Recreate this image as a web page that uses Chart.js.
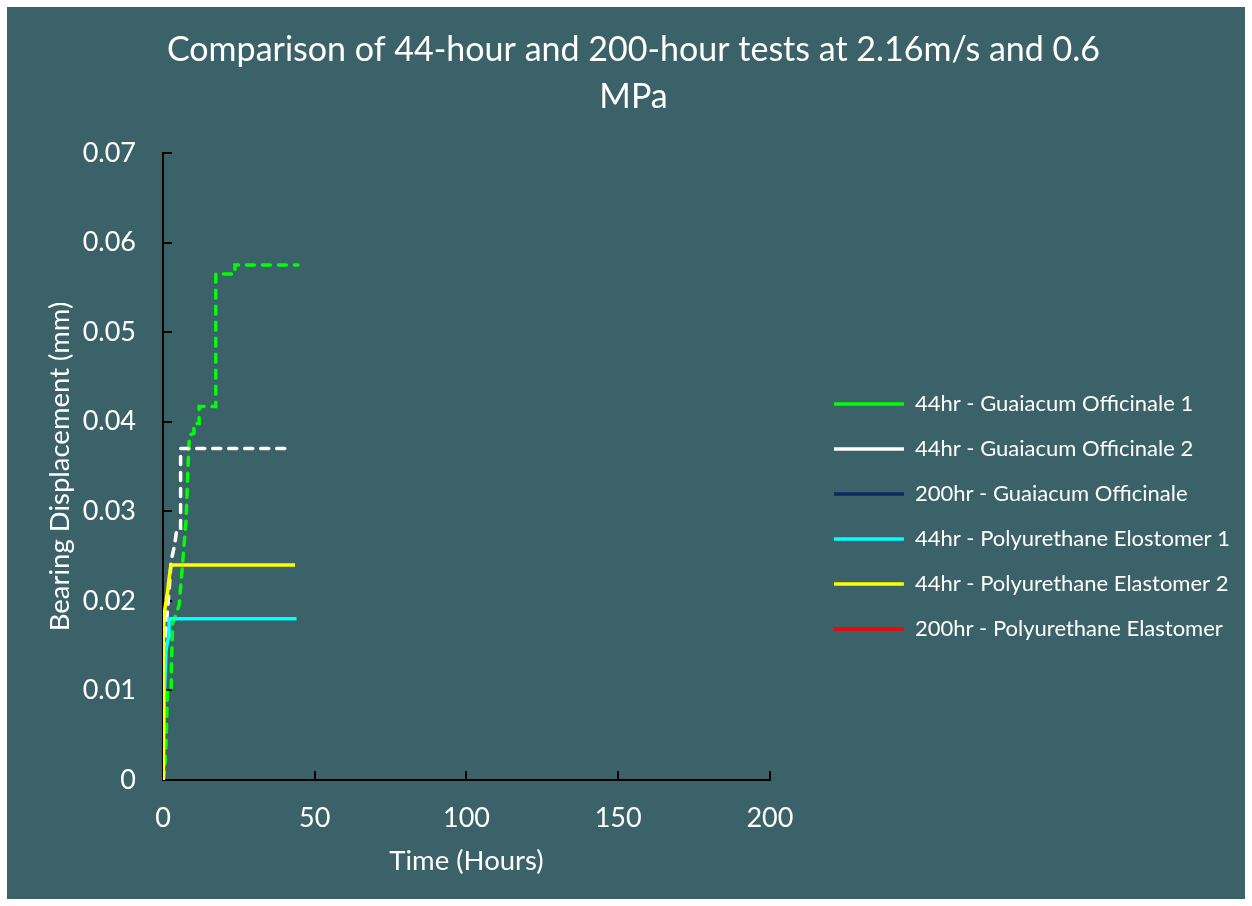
<!DOCTYPE html>
<html>
<head>
<meta charset="utf-8">
<script src="https://cdn.jsdelivr.net/npm/chart.js@4.4.1/dist/chart.umd.min.js"></script>
<style>
  html, body { margin: 0; padding: 0; background: #ffffff; }
  #wrap { position: absolute; left: 7px; top: 7px; width: 1238px; height: 892px; background: #3B6269; }
</style>
</head>
<body>
<div id="wrap"><canvas id="lineChart"></canvas></div>
<script>
// values (hours, mm)
var seriesNames = [
    '44hr - Guaiacum Officinale 1',
    '44hr - Guaiacum Officinale 2',
    '200hr - Guaiacum Officinale',
    '44hr - Polyurethane Elostomer 1',
    '44hr - Polyurethane Elastomer 2',
    '200hr - Polyurethane Elastomer'
];

var go1Hours = [0, 0.5, 1, 1.3, 1.5, 2.7, 2.8, 3.2, 5.3, 6.3, 7.6, 8.3, 8.7, 10.2, 10.2, 11.9, 11.9, 17.4, 17.4, 23.7, 23.7, 44.5];
var go1Disp  = [0, 0.001, 0.004, 0.008, 0.01, 0.01, 0.013, 0.0175, 0.0195, 0.0235, 0.029, 0.0355, 0.0385, 0.0387, 0.0398, 0.0398, 0.0417, 0.0417, 0.0565, 0.0565, 0.0575, 0.0575];

var go2Hours = [0, 0.3, 0.8, 1.5, 2.2, 2.7, 3.8, 4.6, 5.8, 5.8, 42.5];
var go2Disp  = [0, 0.012, 0.016, 0.019, 0.022, 0.0245, 0.0262, 0.0281, 0.0281, 0.037, 0.037];

var go200Hours = [];
var go200Disp  = [];

var pe1Hours = [0, 0.5, 1, 1.5, 2, 2, 44];
var pe1Disp  = [0, 0.01, 0.0145, 0.0155, 0.016, 0.018, 0.018];

var pe2Hours = [0, 0.1, 0.2, 0.4, 0.8, 1.5, 2, 2.6, 43.5];
var pe2Disp  = [0, 0.008, 0.016, 0.0185, 0.0195, 0.021, 0.0225, 0.024, 0.024];

var pe200Hours = [];
var pe200Disp  = [];

var xTickLabels = ['0', '50', '100', '150', '200'];
var yTickLabels = ['0', '0.01', '0.02', '0.03', '0.04', '0.05', '0.06', '0.07'];

function toPoints(xs, ys) {
    return xs.map(function (x, i) { return { x: x, y: ys[i] }; });
}

var colors = ['#00FF00', '#FFFFFF', '#0C2A5B', '#00FFFF', '#FFFF00', '#FF0000'];
var dashed = [true, true, true, false, false, false];
var seriesData = [
    toPoints(go1Hours, go1Disp),
    toPoints(go2Hours, go2Disp),
    toPoints(go200Hours, go200Disp),
    toPoints(pe1Hours, pe1Disp),
    toPoints(pe2Hours, pe2Disp),
    toPoints(pe200Hours, pe200Disp)
];

var datasets = seriesNames.map(function (name, i) {
    return {
        label: name,
        data: seriesData[i],
        borderColor: colors[i],
        backgroundColor: colors[i],
        borderWidth: 3.5,
        borderDash: dashed[i] ? [8, 8] : [],
        borderCapStyle: dashed[i] ? 'round' : 'butt',
        pointRadius: 0,
        tension: 0,
        fill: false,
        order: seriesNames.length - i   // later series drawn on top, like the original
    };
});

Chart.defaults.font.family = 'Lato';
Chart.defaults.color = '#FFFFFF';

var canvas = document.getElementById('lineChart');

var lineChart = new Chart(canvas, {
    type: 'line',
    data: { datasets: datasets },
    options: {
        responsive: true,
        maintainAspectRatio: false,
        animation: false,
        layout: { padding: { left: 20, right: 5, top: 0, bottom: 17.5 } },
        plugins: {
            title: {
                display: true,
                text: ['Comparison of 44-hour and 200-hour tests at 2.16m/s and 0.6', 'MPa'],
                color: '#FFFFFF',
                font: { size: 34, weight: 'normal', lineHeight: 1.382 },
                padding: { top: 20, bottom: 32 }
            },
            legend: {
                position: 'right',
                maxWidth: 500,
                title: { display: true, text: ' ', font: { size: 22 }, padding: { top: 118, bottom: 0 } },
                labels: {
                    color: '#FFFFFF',
                    font: { size: 22 },
                    usePointStyle: true,
                    pointStyle: 'line',
                    pointStyleWidth: 70,
                    padding: 23,
                    sort: function (a, b) { return a.datasetIndex - b.datasetIndex; }
                }
            },
            tooltip: { enabled: false }
        },
        scales: {
            x: {
                type: 'linear',
                min: 0,
                max: 200,
                ticks: {
                    stepSize: 50,
                    padding: 30.8,
                    font: { size: 27 },
                    color: '#FFFFFF',
                    callback: function (v, i) { return xTickLabels[i]; }
                },
                grid: { drawOnChartArea: false, color: '#000000', lineWidth: 2, tickLength: -9 },
                border: { color: '#000000', width: 2 },
                title: { display: true, text: 'Time (Hours)', font: { size: 27.5 }, color: '#FFFFFF', padding: { top: 4, bottom: 4 } },
                afterFit: function (scale) { scale.height = 101.5; }
            },
            y: {
                min: 0,
                max: 0.07,
                ticks: {
                    stepSize: 0.01,
                    padding: 36,
                    font: { size: 27 },
                    color: '#FFFFFF',
                    callback: function (v, i) { return yTickLabels[i]; }
                },
                grid: { drawOnChartArea: false, color: '#000000', lineWidth: 2, tickLength: -9 },
                border: { color: '#000000', width: 2 },
                title: { display: true, text: 'Bearing Displacement (mm)', font: { size: 27.5 }, color: '#FFFFFF', padding: { top: 16.5, bottom: 4 } },
                afterFit: function (scale) { scale.width = 136; }
            },
            gap: {
                position: 'right',
                display: true,
                grid: { display: false },
                border: { display: false },
                ticks: { display: false },
                afterFit: function (scale) { scale.width = 41; }
            }
        }
    }
});
</script>
</body>
</html>
